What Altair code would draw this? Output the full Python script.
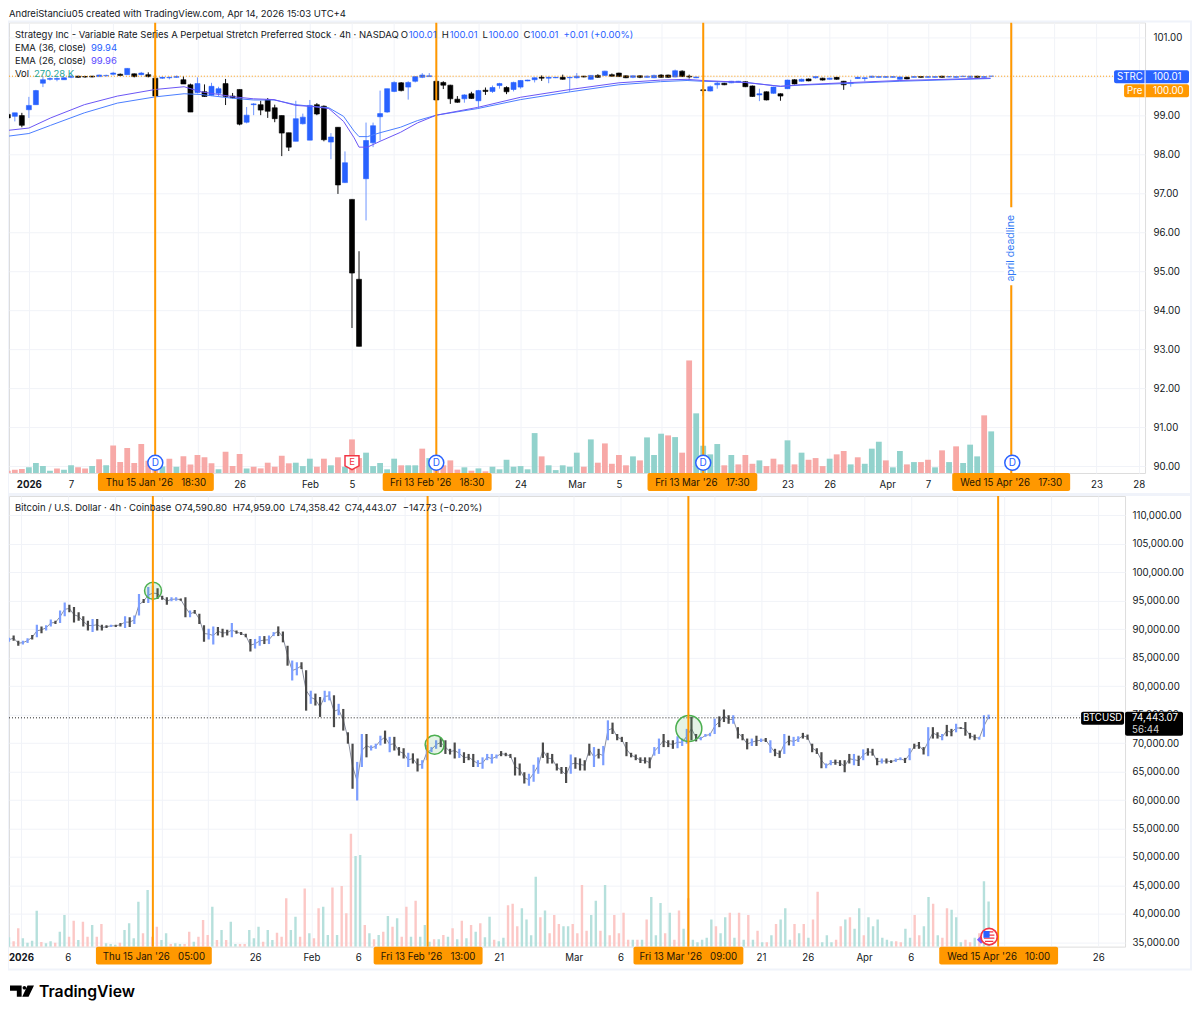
import altair as alt
import pandas as pd

FONT = "Inter"
INK = "#131722"
ORANGE = "#FF9800"
BLUE = "#2962FF"
GRID = "#F1F3F8"
FRAME = "#F0F3FA"
GAP = "\u00a0\u00a0\u00a0"

# ---------- STRC (4h bars) ----------
strc_open = [99.03,98.98,99.00,99.15,99.28,99.83,99.93,99.93,99.92,99.98,
100.01,100.00,100.01,100.00,100.02,100.06,100.06,100.05,100.07,100.05,
100.05,99.96,99.96,99.97,99.98,99.92,99.79,99.59,99.61,99.52,
99.57,99.82,99.50,99.67,98.83,99.28,99.28,99.40,99.20,99.00,
98.56,98.34,98.79,98.37,99.28,99.24,98.32,98.70,97.28,96.85,
94.80,97.38,98.30,98.97,99.09,99.62,99.84,99.73,99.88,99.98,
100.00,99.88,99.85,99.78,99.42,99.43,99.56,99.38,99.65,99.62,
99.77,99.72,99.67,99.73,99.89,99.92,99.98,99.96,99.97,99.98,
99.97,99.97,100.01,99.93,100.03,100.03,100.05,100.09,100.02,99.98,
100.02,99.98,99.97,100.04,100.04,99.99,100.14,100.01,99.97,99.66,
99.63,99.79,99.83,99.84,99.86,99.87,99.76,99.53,99.61,99.57,
99.56,99.69,99.92,99.88,99.94,99.97,99.96,99.93,99.98,99.88,
99.82,99.95,99.95,99.98,99.98,99.98,99.98,99.93,99.98,99.98,
100.00,99.98,99.98,100.01,99.99,99.98,100.00,99.98,100.01,99.98,100.01]
strc_close = [98.94,99.07,98.75,99.26,99.64,99.92,99.95,99.95,99.97,100.01,
99.98,99.99,99.99,100.04,100.03,100.09,100.03,100.21,100.00,100.09,
100.00,99.50,99.98,99.98,100.00,99.81,99.09,99.82,99.49,99.75,
99.69,99.49,99.46,98.78,99.01,99.30,99.14,99.11,98.92,98.55,
98.19,98.92,98.96,99.26,99.04,98.38,98.45,97.22,97.79,94.96,
93.08,98.36,98.74,99.05,99.69,99.85,99.64,99.85,100.00,100.04,
100.02,99.40,99.78,99.43,99.34,99.53,99.44,99.64,99.62,99.72,
99.82,99.61,99.85,99.90,99.91,99.97,99.96,99.98,99.98,99.93,
99.98,100.01,99.99,100.03,99.98,100.14,100.01,100.00,99.97,100.02,
99.98,100.01,100.03,99.98,99.98,100.15,100.00,99.99,99.99,99.64,
99.74,99.83,99.79,99.88,99.88,99.74,99.49,99.56,99.40,99.73,
99.50,99.91,99.81,99.93,99.89,100.00,99.91,99.96,99.93,99.79,
99.84,99.98,99.97,100.01,100.00,100.00,100.00,99.99,99.94,100.00,
99.98,100.00,100.00,99.98,100.00,100.00,100.01,100.01,99.98,100.00,100.01]
strc_high = [99.05,99.07,99.07,99.48,99.66,100.01,99.98,99.98,99.98,100.04,
100.02,100.02,100.02,100.05,100.05,100.12,100.08,100.22,100.08,100.12,
100.11,99.97,100.00,100.00,100.03,100.01,99.82,99.98,99.80,99.84,
99.74,99.94,99.58,99.67,99.22,99.32,99.38,99.45,99.28,99.00,
98.56,99.38,99.05,99.40,99.32,99.26,98.55,98.70,98.08,96.85,
95.52,98.82,98.82,99.64,99.69,99.88,99.86,99.88,100.00,100.09,
100.09,99.88,99.88,99.79,99.50,99.55,99.61,99.66,99.72,99.77,
99.84,99.75,99.87,99.91,99.92,99.98,100.03,100.00,99.99,100.05,
100.00,100.09,100.02,100.04,100.06,100.15,100.08,100.10,100.03,100.03,
100.03,100.03,100.05,100.06,100.05,100.18,100.16,100.05,100.00,99.79,
99.77,99.88,99.84,99.89,99.89,99.88,99.77,99.69,99.62,99.74,
99.57,99.92,99.93,99.95,99.95,100.01,99.97,99.97,99.99,99.89,
99.92,100.00,99.98,100.02,100.01,100.01,100.01,100.00,100.00,100.01,
100.01,100.01,100.01,100.02,100.01,100.01,100.02,100.02,100.02,100.01,100.01]
strc_low = [98.92,98.85,98.70,98.94,99.28,99.73,99.90,99.88,99.92,99.96,
99.97,99.97,99.98,100.00,100.00,100.03,100.01,100.05,99.98,100.03,
99.98,99.50,99.94,99.93,99.97,99.81,99.09,99.57,99.48,99.50,
99.50,99.27,99.44,98.75,98.80,99.01,99.01,98.94,98.83,97.96,
98.09,98.34,98.77,98.37,99.01,98.34,97.88,96.99,97.27,93.55,
93.08,96.31,98.19,98.36,99.07,99.60,99.62,99.41,99.85,99.96,
99.99,99.38,99.68,99.30,99.33,99.33,99.43,99.21,99.53,99.58,
99.69,99.55,99.62,99.69,99.88,99.85,99.89,99.83,99.96,99.92,
99.61,99.95,99.98,99.92,99.97,100.02,99.99,99.99,99.96,99.96,
99.96,99.97,99.96,99.97,99.97,99.98,99.99,99.95,99.96,99.50,
99.62,99.69,99.78,99.83,99.85,99.73,99.48,99.37,99.39,99.56,
99.38,99.68,99.80,99.87,99.88,99.95,99.90,99.92,99.92,99.66,
99.74,99.94,99.88,99.97,99.97,99.97,99.97,99.92,99.93,99.97,
99.97,99.97,99.97,99.97,99.98,99.97,99.99,99.97,99.97,99.97,100.00]
strc_vol = [15,22,26,37,65,45,15,30,22,50,37,30,45,89,50,179,71,162,65,188,
80,54,43,93,41,108,56,117,102,63,24,138,45,123,30,41,30,67,41,112,
63,67,45,93,41,93,50,102,41,218,97,132,45,65,24,93,50,50,50,158,
97,65,50,82,22,37,15,30,11,41,24,86,41,45,24,259,108,50,19,50,
41,132,41,218,67,192,60,117,50,108,82,231,117,255,244,233,132,730,387,177,
121,188,50,117,56,117,60,82,45,93,56,212,56,132,86,97,45,93,121,143,
56,102,60,158,203,82,37,143,56,71,71,86,37,147,71,173,65,184,108,374,270]
strc_vol_dir = ("pppttttptt" "pptptppppp" "pptptppppp" "tppptppppp" "ptttpptptp"
                "ptttttpttp" "tpppptptpt" "ttttttpttt" "ttptpppppt" "ptttptpptt"
                "ttptppptpp" "ptptppptpp" "tptttpttpt" "pptptptttp" "t")

ema_bar = [0,3,6.1,10.9,15.6,21,25.1,27.5,32.2,35,37.9,41,43.6,45.7,47.8,49.3,50,51.2,53,55.9,
           58.3,61,66.9,73,80.1,87,92.9,96.7,98.9,105,110,112.8,119,127,139.9]
ema26 = [98.62,98.68,98.94,99.28,99.50,99.67,99.74,99.61,99.48,99.43,99.41,99.26,99.23,99.18,98.85,98.43,98.19,98.19,98.34,98.57,
         98.81,99.01,99.21,99.47,99.67,99.84,99.91,99.93,99.90,99.85,99.75,99.79,99.84,99.90,99.96]
ema36 = [98.47,98.54,98.75,99.07,99.32,99.48,99.56,99.54,99.44,99.40,99.40,99.28,99.23,99.20,98.98,98.60,98.46,98.46,98.56,98.70,
         98.87,99.01,99.18,99.41,99.61,99.79,99.87,99.90,99.88,99.85,99.75,99.78,99.82,99.88,99.95]

strc_ticks = [3,9,15,21,27,33,43,49,55,61,67,73,81,87,93,99,105,111,117,125.2,131,137,143,149,155,161]
strc_tick_text = ["2026","7","","","","26","Feb","5","","","","24","Mar","5","","","","23","26","Apr","7","","","","23","28"]
strc_y_ticks = [90,91,92,93,94,95,96,97,98,99,100,101]
strc_lines = [20.98,61.0,99.0,142.85]
strc_date_boxes = [(12.83,29.33,"Thu 15 Jan '26"+GAP+"18:30"),(53.37,68.88,"Fri 13 Feb '26"+GAP+"18:30"),
                   (91.07,106.7,"Fri 13 Mar '26"+GAP+"17:30"),(134.45,151.24,"Wed 15 Apr '26"+GAP+"17:30")]

# ---------- BTCUSD ----------
btc_high = [88500,88900,88000,88000,88400,89000,90800,90500,90700,91700,
91500,93300,94700,94300,93900,93000,92300,91500,91800,91800,
90800,90700,90800,90800,91100,92300,92100,92400,96200,95300,
97400,97700,97200,95900,95600,95600,95600,95400,95600,93300,
93400,92700,90700,90100,90500,90400,90100,89900,91100,89800,
89500,89200,88300,88300,88800,88800,88900,89500,90500,89600,
87100,84500,84200,84200,82800,79200,78700,78100,79200,79100,
78400,76900,76000,71900,69900,66700,71600,71600,69600,69900,
71300,72200,71100,71100,69300,
69100,68300,68200,67300,67000,69700,69300,70500,70900,70500,
69000,70100,69000,68400,68100,68100,67000,67500,68100,68100,
68000,68600,68300,68100,67500,66400,64900,64600,66200,67500,
70100,68300,68100,66400,65800,65800,68000,67500,67300,67000,
69900,69300,69000,69500,74000,73600,71600,71100,70200,68300,
68000,67500,67500,67500,69300,70800,71600,70500,70500,71200,
70800,72500,74600,71600,71100,71600,71800,74300,74700,75900,
74900,74900,72800,71600,70800,70800,71300,70800,70900,70500,
69000,68700,71600,71300,71100,71200,
71800,71500,69900,69100,68400,66400,67000,67100,67000,67000,
68100,68100,67800,68900,69100,69000,67400,67300,67300,67000,
67300,67500,67400,69100,69900,70200,69300,72800,72800,71900,
71600,73200,72500,73400,72800,73700,71800,71500,71100,74900,75000]
btc_low = [87800,88000,87100,87300,87600,88200,88600,89300,89800,90500,
90900,91100,92300,93000,91200,91500,90500,89800,89500,89800,
89800,90200,90400,90400,90500,90200,90400,90900,92400,94600,
94600,95000,95300,95200,94300,94900,95000,95000,92100,92100,
92700,90900,87800,88200,87300,88900,88600,88900,88600,89200,
89000,88600,86100,86600,87100,87400,87400,88800,88800,87700,
83600,81000,81900,83000,75700,76900,76600,74600,77200,77500,
72800,74900,72200,69900,62000,59900,65800,67500,68700,69000,
69600,69900,68400,68700,67800,
67300,65800,66400,65000,65500,67000,68400,69000,69300,68100,
68000,67300,67400,66500,67000,65800,65800,65500,67000,66400,
67300,67700,67700,67400,64300,64300,62900,62500,63200,64600,
67400,66400,66400,65200,64600,63000,64600,65500,65200,65200,
67800,65800,67300,66100,70500,71600,70500,70200,67700,67500,
67000,66500,66400,65600,67800,68100,69300,69300,69000,69100,
69500,69900,70500,70300,70500,71100,71200,71600,72800,73700,
73400,73400,70800,70500,68900,69500,69500,70200,70200,68300,
67700,67400,68100,69600,69500,70200,
70800,70600,68400,68100,65600,65600,66100,66200,66000,64900,
66400,66100,66000,67000,67800,67800,66100,66400,66400,66500,
66700,67000,66500,67000,69000,69000,68000,67700,70800,70800,
70500,71200,71200,71900,72500,71300,70800,70500,70600,71100,74200]
btc_dir = ("bddbbdbdbb" "dbbdddddbd" "ddbddbdbbd" "bbdddbbddb" "dddbbdddbd" "dddbbdbbdd"
           "dbbddbddbb" "dbdddbbdbb" "bdbdd"
           "dbddbbbbdd" "ddbdddbbbb" "bddddddbbb" "ddddddbddd" "dbdbbddddd" "ddddbbdddb"
           "bbddbbbbdd" "dbdddbdbdb" "ddbdbb"
           "dddddbbddd" "dbdbdddbdd" "bbdbdddbdd" "bddbddddbb" "b")
btc_vol = [930,530,1830,830,400,600,3600,470,330,530,400,1500,3160,1000,2600,670,2500,1000,2160,1000,
2260,330,270,200,400,1670,2330,830,4500,1330,5660,1000,2000,670,1330,270,330,270,270,1500,
500,1000,2660,1170,4000,670,1670,670,2500,270,270,270,1670,830,2000,500,1670,670,1400,1000,
4830,1670,3000,1000,5830,1330,830,3830,4000,1170,5930,1170,6060,3330,11290,9060,9160,2160,1330,730,
1170,1500,3060,2000,2830,1000,4000,1000,4600,1000,2160,500,730,730,1170,1000,1830,730,2600,830,
2160,1500,2330,930,3000,
680,540,900,4150,4280,2030,3830,2710,1130,6990,2930,3610,1350,3160,2260,2030,2030,2260,1350,6180,
1580,3160,4600,1580,6180,1130,3160,1350,3380,680,680,680,680,2710,4960,1130,4370,1350,3380,680,
3610,1800,4830,680,450,680,900,2710,2030,1350,2930,3380,900,3380,680,3160,680,1580,450,450,
1130,2260,2710,3830,680,2260,1350,2260,900,2710,5500,450,1130,450,680,2030,2710,2930,1800,3830,
1130,2930,2030,2710,900,680,540,540,450,1800,900,3160,1130,2030,4960,4280,1130,900,3830,3700,
2930,450,680,450,900,1350,6540,4510]
btc_vol_dir = ("tppttttptt" "pttpptpptp" "ptttpttttp" "tpptt" "pttpp" "tppptptptt" "pptttpttpp"
               "pttpptpptt" "ptppptt" "ptp" "tptptpptpt" "ttptptptpt" "ptptt"
               "ptt" "ppptttt" "ptpppttppp" "pttptppppp" "tptptttptp" "ptptttttpt"
               "tptptptptp" "tptttptptp" "ptttpptptt" "pttttttppt" "tppttptppt" "ttpptptt")

btc_ticks = [0,5,10,15,20,25,31,36,41,46,51,59,64,69,74,79,84,90,95,100,105,110,115]
btc_tick_text = ["2026","6","","","","26","Feb","6","","","21","Mar","6","","","21","26","Apr","6","","","","26"]
btc_y_ticks = [35000,40000,45000,50000,55000,60000,65000,70000,75000,80000,85000,90000,95000,100000,105000,110000]
btc_lines = [14.08,43.41,71.25,104.32]
btc_date_boxes = [(8,20.37,"Thu 15 Jan '26"+GAP+"05:00"),(37.65,49.28,"Fri 13 Feb '26"+GAP+"13:00"),
                  (65.39,77.12,"Fri 13 Mar '26"+GAP+"09:00"),(98.03,110.72,"Wed 15 Apr '26"+GAP+"10:00")]
btc_circles = [(14.1,96770,289),(44.16,69700,361),(71.3,72560,676)]

# ---------- frames ----------
n = len(strc_close)
strc = pd.DataFrame({"i":range(n),"o":strc_open,"h":strc_high,"l":strc_low,"c":strc_close})
strc["body"] = [BLUE if c>=o else "#000000" for o,c in zip(strc_open,strc_close)]
strc["wick"] = ["#6E95FF" if c>=o else "#111111" for o,c in zip(strc_open,strc_close)]
svol = pd.DataFrame({"i":range(n),"v":strc_vol,
                     "col":["#92D2CC" if d=="t" else "#F7A9A7" for d in strc_vol_dir]})
ema = pd.DataFrame({"i":ema_bar,"e26":ema26,"e36":ema36})

m = min(len(btc_high),len(btc_low),len(btc_dir))
span = 103.3+1.28
btc = pd.DataFrame({"d":[-1.28+span*k/(m-1) for k in range(m)],"h":btc_high[:m],"l":btc_low[:m]})
btc["mid"] = (btc.h+btc.l)/2
btc["col"] = ["#7C9EFF" if d=="b" else "#4A4A4A" for d in btc_dir[:m]]
v = len(btc_vol)
dirs = (btc_vol_dir + "t"*v)[:v]
bvol = pd.DataFrame({"d":[-1.28+span*k/(v-1) for k in range(v)],"v":btc_vol,
                     "col":["#B6E0DC" if d=="t" else "#FCC8C6" for d in dirs]})

ONE = pd.DataFrame({"a":[0]})
TXT = 9.5
AX = 9.7

def lbl(x,y,t,color=INK,size=TXT,weight=400,align="left",angle=None,font=FONT):
    kw = dict(text=t,align=align,baseline="middle",fontSize=size,fontWeight=weight,color=color,font=font)
    if angle is not None:
        kw["angle"]=angle
    return alt.Chart(ONE).mark_text(**kw).encode(x=alt.value(x),y=alt.value(y))

def box(x0,x1,y0,y1,color,radius=2):
    return alt.Chart(ONE).mark_rect(fill=color,cornerRadius=radius).encode(
        x=alt.value(x0),x2=alt.value(x1),y=alt.value(y0),y2=alt.value(y1))

def frame(x1,y1):
    return alt.Chart(ONE).mark_rect(filled=False,stroke=FRAME,strokeWidth=2).encode(
        x=alt.value(-1),x2=alt.value(x1),y=alt.value(-1),y2=alt.value(y1))

def x_axis(values,texts):
    vals = ",".join(str(a) for a in values)
    tx = ",".join("'%s'"%a for a in texts)
    return alt.Axis(values=values,labelExpr=f"[{tx}][indexof([{vals}],datum.value)]",title=None,
                    grid=True,gridColor=GRID,gridWidth=1,domain=False,ticks=False,labelPadding=6,
                    labelFont=FONT,labelFontSize=AX,labelColor=INK,labelOverlap=False,labelFlush=False,
                    labelBound=False,labelAngle=0,
                    labelFontWeight={"condition":{"test":"datum.value==%s"%values[0],"value":"bold"},"value":"normal"})

def y_axis(values,fmt,pad):
    return alt.Axis(values=values,format=fmt,orient="right",title=None,grid=True,gridColor=GRID,gridWidth=1,
                    domain=False,ticks=False,labelPadding=pad,labelAlign="left",labelFont=FONT,
                    labelFontSize=AX,labelColor=INK,labelOverlap=False)

# ---------- top panel ----------
SX = alt.Scale(domain=[0.17,161.9],nice=False,zero=False,padding=0)
SY = alt.Scale(domain=[89.83,101.39],nice=False,zero=False)
sxa = x_axis(strc_ticks,strc_tick_text)
sya = y_axis(strc_y_ticks,".2f",8)
W1,H1 = 1137,451
def sx(f="i"): return alt.X(f"{f}:Q",scale=SX,axis=sxa)
def sy(f,axis=None): return alt.Y(f"{f}:Q",scale=SY,axis=axis)

s_lines = pd.DataFrame({"i":strc_lines})
s_boxes = pd.DataFrame(strc_date_boxes,columns=["a","b","t"])
s_boxes["m"] = (s_boxes.a+s_boxes.b)/2
s_div = pd.DataFrame({"i":[21,61,99,143],"t":["D"]*4})
s_earn = pd.DataFrame({"i":[49],"t":["E"]})
SHIELD = "M-1,-1H1V0.45L0,1L-1,0.45Z"

top_layers = [
    alt.Chart(svol).mark_bar(size=5.8,clip=True).encode(x=sx(),y=alt.Y("v:Q",scale=alt.Scale(domain=[0,2922],nice=False),axis=None),
                                               color=alt.Color("col:N",scale=None)),
    alt.Chart(strc).mark_rule(strokeWidth=1,clip=True).encode(x=sx(),y=sy("h",sya),y2="l:Q",color=alt.Color("wick:N",scale=None)),
    alt.Chart(strc).mark_bar(size=5,strokeWidth=0.6,clip=True).encode(x=sx(),y=sy("o"),y2="c:Q",color=alt.Color("body:N",scale=None),
                                                            stroke=alt.Stroke("body:N",scale=None)),
    alt.Chart(ema).mark_line(strokeWidth=1,color="#4A7DFF",clip=True).encode(x=sx(),y=sy("e36")),
    alt.Chart(ema).mark_line(strokeWidth=1,color="#6A55F5",clip=True).encode(x=sx(),y=sy("e26")),
    alt.Chart(pd.DataFrame({"p":[100.01]})).mark_rule(color=ORANGE,strokeDash=[1,2],strokeWidth=1).encode(
        y=sy("p"),x=alt.value(0),x2=alt.value(1106)),
    alt.Chart(s_lines).mark_rule(color=ORANGE,strokeWidth=2).encode(x=sx()),
    box(996,1010,185,263,"#FFFFFF",0),
    lbl(1003,226,"april deadline","#3179F5",10.5,angle=270,align="center"),
    alt.Chart(s_div).mark_point(filled=True,fill="#FFFFFF",stroke=BLUE,strokeWidth=1.5,size=225,opacity=1,shape="circle").encode(
        x=sx(),y=alt.value(440.7)),
    alt.Chart(s_div).mark_text(color=BLUE,fontSize=10,font=FONT,baseline="middle").encode(x=sx(),y=alt.value(440.7),text="t:N"),
    alt.Chart(s_earn).mark_point(filled=True,fill="#FFFFFF",stroke="#F23645",strokeWidth=1.5,size=196,opacity=1,shape=SHIELD).encode(
        x=sx(),y=alt.value(440.7)),
    alt.Chart(s_earn).mark_text(color="#F23645",fontSize=9.5,font=FONT,baseline="middle").encode(x=sx(),y=alt.value(440),text="t:N"),
    alt.Chart(s_boxes).mark_rect(fill=ORANGE,cornerRadius=2).encode(x=alt.X("a:Q",scale=SX,axis=sxa),x2="b:Q",
                                                                     y=alt.value(451),y2=alt.value(469)),
    alt.Chart(s_boxes).mark_text(color="#1E1505",fontSize=AX,font=FONT,baseline="middle").encode(
        x=alt.X("m:Q",scale=SX,axis=sxa),y=alt.value(461),text="t:N"),
    # right-hand price tags
    box(1106,1181,48,61,BLUE),
    box(1116,1181,62,75,ORANGE),
    alt.Chart(ONE).mark_rule(color="#FFFFFF",strokeWidth=1).encode(x=alt.value(1137),y=alt.value(48),y2=alt.value(75)),
    lbl(1109,54.5,"STRC","#FFFFFF",AX),
    lbl(1145,54.5,"100.01","#FFFFFF",AX),
    lbl(1119,68.5,"Pre","#FFFFFF",AX),
    lbl(1145,68.5,"100.00","#FFFFFF",AX),
    # legend
    lbl(0,-8,"AndreiStanciu05 created with TradingView.com, Apr 14, 2026 15:03 UTC+4"),
    lbl(6,12.5,"Strategy Inc - Variable Rate Series A Perpetual Stretch Preferred Stock · 4h · NASDAQ"),
    lbl(392,12.5,"O"),lbl(400,12.5,"100.01",BLUE),
    lbl(433,12.5,"H"),lbl(441,12.5,"100.01",BLUE),
    lbl(474,12.5,"L"),lbl(480,12.5,"100.00",BLUE),
    lbl(515,12.5,"C"),lbl(522,12.5,"100.01",BLUE),
    lbl(555,12.5,"+0.01 (+0.00%)",BLUE),
    lbl(6,25.5,"EMA (36, close)"),lbl(82,25.5,"99.94",BLUE),
    lbl(6,39,"EMA (26, close)"),lbl(82,39,"99.96","#5B4BFF"),
    lbl(6,52,"Vol"),lbl(25,52,"270.28 K","#26A69A"),
    frame(1183,472),
]
top = alt.layer(*top_layers).resolve_scale(y="independent").properties(width=W1,height=H1)

# ---------- bottom panel ----------
BX = alt.Scale(domain=[-1.28,117.87],nice=False,zero=False,padding=0)
BY = alt.Scale(domain=[34256,113400],nice=False,zero=False)
bxa = x_axis(btc_ticks,btc_tick_text)
bya = y_axis(btc_y_ticks,",.2f",7)
W2,H2 = 1117,451
def bx(f="d"): return alt.X(f"{f}:Q",scale=BX,axis=bxa)
def by(f,axis=None): return alt.Y(f"{f}:Q",scale=BY,axis=axis)

b_lines = pd.DataFrame({"d":btc_lines})
b_boxes = pd.DataFrame(btc_date_boxes,columns=["a","b","t"])
b_boxes["m"] = (b_boxes.a+b_boxes.b)/2
b_circ = pd.DataFrame(btc_circles,columns=["d","p","s"])
FLAG_DAY = pd.DataFrame({"d":[103.36]})
LOGO = ("M-1,-0.51H-0.03V0.43H-0.43V-0.06H-1Z"
        "M0.46,-0.51H1L0.55,0.43H0.02Z"
        "M0.2,-0.47A0.15,0.15,0,1,1,0.2,-0.17A0.15,0.15,0,1,1,0.2,-0.47Z")

bottom_layers = [
    alt.Chart(bvol).mark_bar(size=2.4,clip=True).encode(x=bx(),y=alt.Y("v:Q",scale=alt.Scale(domain=[0,45100],nice=False),axis=None),
                                             color=alt.Color("col:N",scale=None)),
    alt.Chart(btc).mark_line(strokeWidth=1,color="#8A8FA0",clip=True).encode(x=bx(),y=by("mid",bya)),
    alt.Chart(btc).mark_rule(strokeWidth=2.2,clip=True).encode(x=bx(),y=by("h"),y2="l:Q",color=alt.Color("col:N",scale=None)),
    alt.Chart(pd.DataFrame({"p":[74443.07]})).mark_rule(color="#222222",strokeDash=[1,2],strokeWidth=1).encode(
        y=by("p"),x=alt.value(0),x2=alt.value(1073)),
    alt.Chart(b_circ).mark_point(filled=True,fill="#4CAF50",fillOpacity=0.15,stroke="#4CAF50",strokeWidth=1.5,strokeOpacity=1,
                                 opacity=1,shape="circle").encode(
        x=bx(),y=by("p"),size=alt.Size("s:Q",scale=None)),
    alt.Chart(b_lines).mark_rule(color=ORANGE,strokeWidth=2).encode(x=bx()),
    # event flag
    alt.Chart(pd.DataFrame({"d":[102.5]})).mark_point(filled=True,fill="#7B5CFF",stroke="#7B5CFF",size=30,shape="diamond",opacity=1).encode(
        x=bx(),y=alt.value(444)),
    alt.Chart(FLAG_DAY).mark_point(filled=True,fill="#FFFFFF",stroke="#F23645",strokeWidth=1.8,size=270,shape="circle",opacity=1).encode(
        x=bx(),y=alt.value(441)),
    alt.Chart(FLAG_DAY).mark_point(filled=False,stroke="#F23645",strokeWidth=1.3,size=110,opacity=1,
                                   shape="M-1,-0.3H1M-1,0.3H1M-0.8,0.9H0.8M-0.3,-0.9H0.8").encode(x=bx(),y=alt.value(441)),
    alt.Chart(FLAG_DAY).mark_point(filled=True,fill="#2962FF",stroke="#2962FF",size=110,opacity=1,
                                   shape="M-0.9,-0.9H-0.1V0H-0.9Z").encode(x=bx(),y=alt.value(441)),
    alt.Chart(b_boxes).mark_rect(fill=ORANGE,cornerRadius=2).encode(x=alt.X("a:Q",scale=BX,axis=bxa),x2="b:Q",
                                                                     y=alt.value(451),y2=alt.value(469)),
    alt.Chart(b_boxes).mark_text(color="#1E1505",fontSize=AX,font=FONT,baseline="middle").encode(
        x=alt.X("m:Q",scale=BX,axis=bxa),y=alt.value(461),text="t:N"),
    box(1073,1116,216,229,"#000000"),
    box(1117,1175,216,240,"#000000"),
    lbl(1075,222.5,"BTCUSD","#FFFFFF",AX),
    lbl(1124,222.5,"74,443.07","#FFFFFF",AX),
    lbl(1124,234,"56:44","#D0D0D0",AX),
    lbl(6,12.5,"Bitcoin / U.S. Dollar · 4h · Coinbase"),
    lbl(166,12.5,"O74,590.80"),
    lbl(224,12.5,"H74,959.00"),
    lbl(281,12.5,"L74,358.42"),
    lbl(336,12.5,"C74,443.07"),
    lbl(394,12.5,"−147.73 (−0.20%)"),
    frame(1183,474),
    alt.Chart(ONE).mark_point(filled=True,fill="#000000",size=576,opacity=1,shape=LOGO).encode(
        x=alt.value(13),y=alt.value(496)),
    lbl(30,496.5,"TradingView","#000000",15.8,600),
]
bottom = alt.layer(*bottom_layers).resolve_scale(y="independent").properties(width=W2,height=H2)

chart = alt.vconcat(top,bottom,spacing=-3).properties(
    padding={"left":-2,"top":0,"right":-1,"bottom":0}).configure_view(stroke=None).configure(
    font=FONT,background="#FFFFFF")
chart.save("out.html", embed_options={"renderer": "svg", "actions": False})
